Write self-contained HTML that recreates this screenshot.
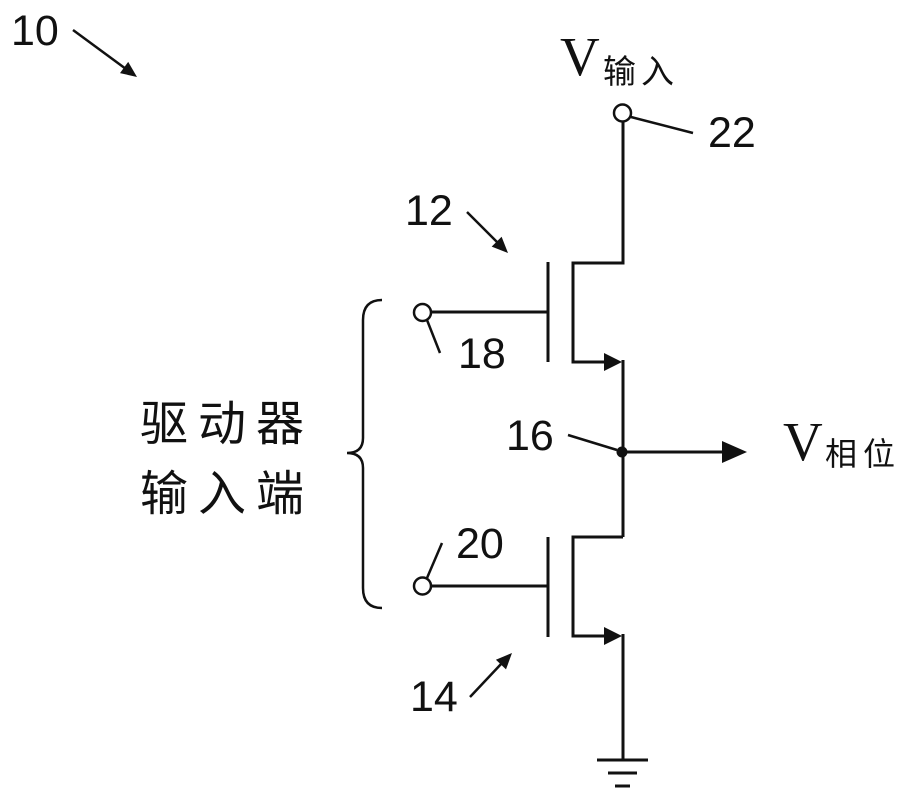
<!DOCTYPE html>
<html>
<head>
<meta charset="utf-8">
<style>
  html, body { margin: 0; padding: 0; background: #fff; }
  svg { display: block; }
  .num { font-family: "Liberation Sans", Arial, sans-serif; font-size: 43px; fill: #111; }
  .v { font-family: "Liberation Serif", "Times New Roman", serif; font-size: 55px; fill: #111; }
  .cjk { font-family: "Liberation Sans", "Noto Sans CJK SC", "WenQuanYi Zen Hei", sans-serif; fill: #111; }
</style>
</head>
<body>
<svg width="913" height="801" viewBox="0 0 913 801" xmlns="http://www.w3.org/2000/svg">
  <rect width="913" height="801" fill="#fff"/>
  <g stroke="#111" stroke-width="3" fill="none" stroke-linecap="butt" stroke-linejoin="miter">
    <!-- upper transistor -->
    <polyline points="623,122 623,263 573,263 573,362 608,362"/>
    <line x1="548" y1="262" x2="548" y2="362"/>
    <line x1="431" y1="312" x2="548" y2="312"/>
    <line x1="623" y1="360" x2="623" y2="537"/>
    <!-- lower transistor -->
    <polyline points="623,537 573,537 573,636 608,636"/>
    <line x1="548" y1="537" x2="548" y2="637"/>
    <line x1="432" y1="586" x2="548" y2="586"/>
    <line x1="623" y1="634" x2="623" y2="760"/>
    <!-- ground -->
    <line x1="597" y1="760" x2="648" y2="760"/>
    <line x1="608" y1="773" x2="637" y2="773"/>
    <line x1="615" y1="786" x2="630" y2="786"/>
    <!-- output -->
    <line x1="622" y1="452" x2="725" y2="452"/>
    <!-- terminals -->
    <circle cx="622.5" cy="113" r="8.5" stroke-width="2.5" fill="#fff"/>
    <circle cx="422.5" cy="312.5" r="8.5" stroke-width="2.5" fill="#fff"/>
    <circle cx="422.5" cy="586" r="8.5" stroke-width="2.5" fill="#fff"/>
    <!-- leaders -->
    <line x1="631" y1="117" x2="693" y2="133" stroke-width="2.5"/>
    <line x1="427" y1="320" x2="440" y2="353" stroke-width="2.5"/>
    <line x1="427" y1="578" x2="442" y2="543" stroke-width="2.5"/>
    <line x1="568" y1="435" x2="617" y2="450" stroke-width="2.5"/>
    <!-- reference arrows -->
    <line x1="73" y1="30" x2="126" y2="69" stroke-width="2.5"/>
    <line x1="467" y1="212" x2="498" y2="243" stroke-width="2.5"/>
    <line x1="470" y1="697" x2="502" y2="663" stroke-width="2.5"/>
    <!-- brace -->
    <path d="M382,300 Q363,300 363,320 L363,438 Q363,453 347,453 Q363,453 363,468 L363,588 Q363,608 382,608" stroke-width="2.5"/>
  </g>
  <g fill="#111">
    <polygon points="604,353 622,362 604,371"/>
    <polygon points="604,627 622,636 604,645"/>
    <polygon points="722,441 747,452 722,463"/>
    <circle cx="622" cy="452" r="5.5"/>
    <polygon points="137,77 128.2,61.9 120.0,73.1"/>
    <polygon points="508,253 491.7,246.6 501.6,236.7"/>
    <polygon points="512,653 506.0,669.4 495.9,659.7"/>
  </g>
  <!-- labels -->
  <text class="num" x="11" y="45">10</text>
  <text class="num" x="405" y="225">12</text>
  <text class="num" x="708" y="147">22</text>
  <text class="num" x="458" y="368">18</text>
  <text class="num" x="506" y="450">16</text>
  <text class="num" x="456" y="558">20</text>
  <text class="num" x="410" y="711">14</text>

  <text class="v" x="560" y="75">V</text>
  <text class="cjk" x="603" y="83" font-size="33" letter-spacing="5">输入</text>

  <text class="v" x="783" y="460">V</text>
  <text class="cjk" x="825" y="465" font-size="32" letter-spacing="6">相位</text>

  <text class="cjk" x="140" y="440" font-size="48" letter-spacing="10">驱动器</text>
  <text class="cjk" x="140" y="510" font-size="48" letter-spacing="10">输入端</text>
</svg>
</body>
</html>
